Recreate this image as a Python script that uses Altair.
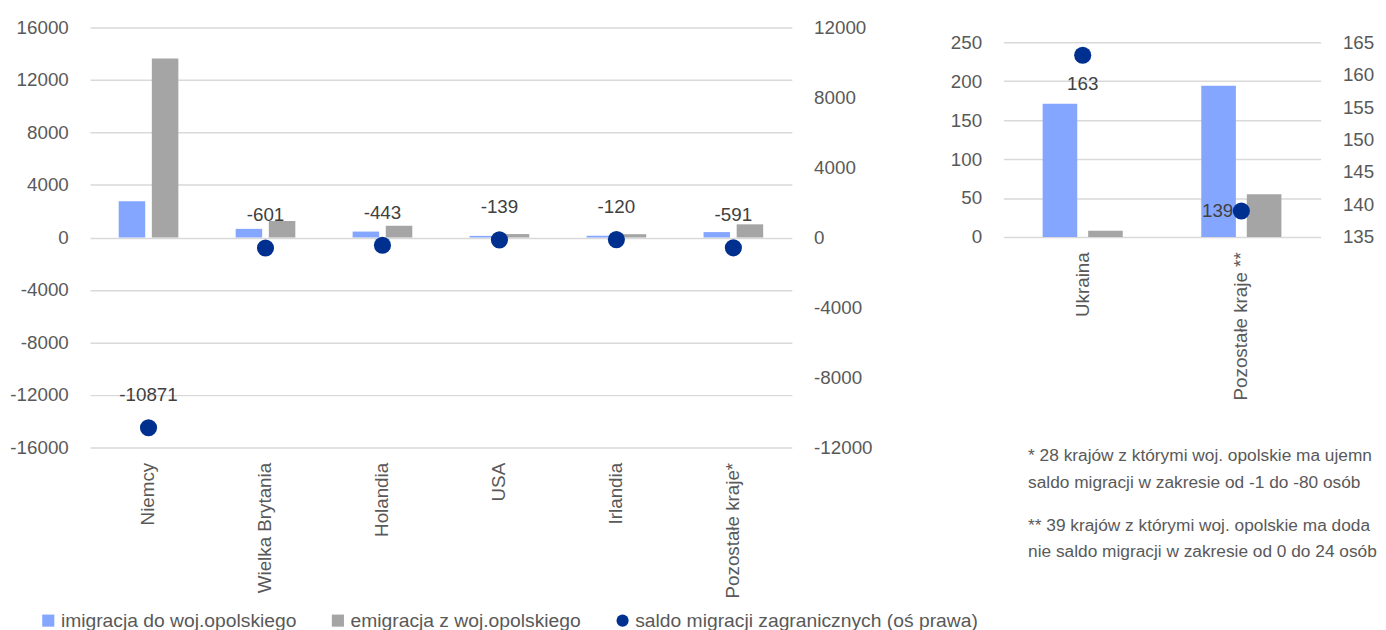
import altair as alt
import pandas as pd

# ---- data ----
countries_left = ["Niemcy", "Wielka Brytania", "Holandia", "USA", "Irlandia", "Pozostałe kraje*"]
imigracja_left = [2760, 655, 450, 120, 130, 410]
emigracja_left = [13631, 1256, 893, 259, 250, 1001]
saldo_left = [-10871, -601, -443, -139, -120, -591]

countries_right = ["Ukraina", "Pozostałe kraje **"]
imigracja_right = [171, 194]
emigracja_right = [8, 55]
saldo_right = [163, 139]

series = ["imigracja do woj.opolskiego", "emigracja z woj.opolskiego",
          "saldo migracji zagranicznych (oś prawa)"]
colors = ["#84A6FF", "#A5A5A5", "#00308F"]
shapes = ["square", "square", "circle"]

left_ticks = [-16000, -12000, -8000, -4000, 0, 4000, 8000, 12000, 16000]
left_dot_ticks = [-12000, -8000, -4000, 0, 4000, 8000, 12000]
right_ticks = [0, 50, 100, 150, 200, 250]
right_dot_ticks = [135, 140, 145, 150, 155, 160, 165]

footnotes = [
    "* 28 krajów z którymi woj. opolskie ma ujemne",
    "saldo migracji w zakresie od -1 do -80 osób",
    "** 39 krajów z którymi woj. opolskie ma dodat-",
    "nie saldo migracji w zakresie od 0 do 24 osób",
]

FONT = "Liberation Sans"
TXT = "#595959"
LBL = "(datum.value < 0 ? '-' : '') + format(abs(datum.value), 'd')"

# the right panel's plot starts 15px lower than the left one: its scales get
# extra head-room above the last tick so that both panels stay top-aligned
RIGHT_H = 197
HEAD = 15


def bars_df(countries, imm, emi):
    rows = []
    for c, a, b in zip(countries, imm, emi):
        rows.append({"country": c, "series": series[0], "value": a})
        rows.append({"country": c, "series": series[1], "value": b})
    return pd.DataFrame(rows)


def saldo_df(countries, saldo):
    return pd.DataFrame({"country": countries, "series": series[2], "saldo": saldo,
                         "label": [str(v) for v in saldo]})


def panel(countries, imm, emi, saldo, width, height, bar_domain, bar_ticks,
          dot_domain, dot_ticks, pad_inner, offset_pad, label_specs, extra=()):
    bdf = bars_df(countries, imm, emi)
    sdf = saldo_df(countries, saldo)
    x = alt.X("country:N", sort=countries,
              scale=alt.Scale(paddingInner=pad_inner, paddingOuter=pad_inner / 2),
              axis=alt.Axis(title=None, labelAngle=270, labelPadding=15, labelLimit=400))
    color = alt.Color("series:N", scale=alt.Scale(domain=series, range=colors),
                      legend=alt.Legend(title=None))
    bars = alt.Chart(bdf).mark_bar().encode(
        x=x,
        xOffset=alt.XOffset("series:N", sort=series[:2],
                            scale=alt.Scale(paddingInner=offset_pad, paddingOuter=0)),
        y=alt.Y("value:Q", scale=alt.Scale(domain=bar_domain, nice=False, zero=False),
                axis=alt.Axis(title=None, values=bar_ticks, grid=True, labelPadding=22,
                              labelExpr=LBL)),
        color=color,
    )
    dot_scale = alt.Scale(domain=dot_domain, nice=False, zero=False)
    dots = alt.Chart(sdf).mark_point(filled=True, size=300, opacity=1, strokeWidth=0).encode(
        x=x,
        y=alt.Y("saldo:Q", scale=dot_scale,
                axis=alt.Axis(title=None, orient="right", values=dot_ticks, grid=False,
                              labelPadding=22, labelExpr=LBL)),
        color=color,
        shape=alt.Shape("series:N", scale=alt.Scale(domain=series, range=shapes),
                        legend=alt.Legend(title=None)),
    )
    layers = [bars, dots]
    for flt, dx, dy in label_specs:
        base = alt.Chart(sdf)
        if flt is not None:
            base = base.transform_filter(alt.datum.country == flt)
        layers.append(base.mark_text(dx=dx, dy=dy, fontSize=19, color="#404040", font=FONT).encode(
            x=x,
            y=alt.Y("saldo:Q", scale=dot_scale, axis=None),
            text="label:N",
        ))
    layers.extend(extra)
    return alt.layer(*layers).resolve_scale(y="independent").properties(width=width, height=height)


left = panel(countries_left, imigracja_left, emigracja_left, saldo_left, 710, 425,
             [-16000, 16000], left_ticks, [-12000, 12000], left_dot_ticks,
             0.49, 0.2, [(None, 0, -33)])

one = pd.DataFrame({"k": [0]})
note_y = [434, 461, 504, 531]
notes = [
    alt.Chart(one).mark_text(align="left", baseline="middle", fontSize=17.5, color=TXT,
                             font=FONT, limit=354, ellipsis=" ").encode(
        x=alt.value(25), y=alt.value(yy), text=alt.value(t))
    for t, yy in zip(footnotes, note_y)
]

bar_top = right_ticks[-1] + (right_ticks[-1] - right_ticks[0]) * HEAD / RIGHT_H
dot_top = right_dot_ticks[-1] + (right_dot_ticks[-1] - right_dot_ticks[0]) * HEAD / RIGHT_H

right = panel(countries_right, imigracja_right, emigracja_right, saldo_right, 321, RIGHT_H + HEAD,
              [0, bar_top], right_ticks, [135, dot_top], right_dot_ticks,
              0.495, 0.24,
              [("Ukraina", 0, 29), ("Pozostałe kraje **", -24, 0)],
              extra=notes)

chart = alt.hconcat(left, right, spacing=78).resolve_scale(
    xOffset="independent"
).properties(
    padding={"left": 1, "top": 7, "right": 0, "bottom": 0}
).configure(font=FONT).configure_view(stroke=None).configure_axis(
    labelFont=FONT, labelFontSize=19, labelColor=TXT, ticks=False, domain=False,
    gridColor="#D9D9D9", gridWidth=1.5,
).configure_legend(
    orient="none", legendX=-52, legendY=590, direction="horizontal",
    symbolSize=150, labelFont=FONT, labelFontSize=19.5, labelColor=TXT,
    columnPadding=32, labelOffset=3, symbolStrokeWidth=0, padding=0, labelLimit=500,
)

chart.save("out.html", embed_options={"renderer": "svg", "actions": False})
